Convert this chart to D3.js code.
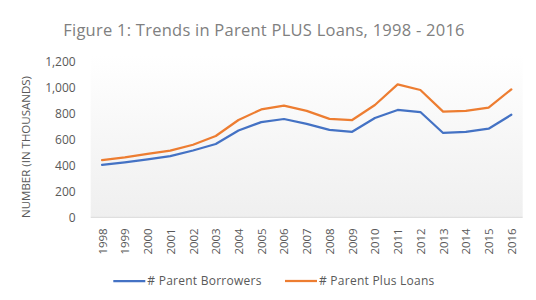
<!DOCTYPE html>
<html>
<head>
<meta charset="utf-8">
<script src="https://cdn.jsdelivr.net/npm/d3@7"></script>
<style>
  body { margin: 0; background: #fff; }
  text { font-family: "Open Sans", sans-serif; fill: #595959; }
</style>
</head>
<body>
<svg width="536" height="300"></svg>
<script>
var years = ["1998","1999","2000","2001","2002","2003","2004","2005","2006","2007",
             "2008","2009","2010","2011","2012","2013","2014","2015","2016"];
var borrowers = [404, 425, 448, 473, 516, 566, 670, 735, 759, 721,
                 675, 660, 767, 829, 813, 651, 659, 684, 792];
var plusLoans = [442, 463, 489, 515, 560, 628, 751, 833, 862, 822,
                 760, 751, 867, 1027, 983, 816, 821, 847, 988];
var yTicks = [0, 200, 400, 600, 800, 1000, 1200];

var series = [
  {name: "# Parent Borrowers", values: borrowers, color: "#4472C4"},
  {name: "# Parent Plus Loans", values: plusLoans, color: "#ED7D31"}
];

var svg = d3.select("svg");

var plot = {left: 90.7, right: 522.7, top: 55, bottom: 217.3};

var x = d3.scalePoint()
    .domain(years)
    .range([plot.left, plot.right])
    .padding(0.5);

var y = d3.scaleLinear()
    .domain([0, 1200])
    .range([plot.bottom, 61.9]);

// plot area background gradient
var grad = svg.append("defs").append("linearGradient")
    .attr("id", "bg")
    .attr("x1", 0).attr("y1", 0).attr("x2", 0).attr("y2", 1);
grad.append("stop").attr("offset", "0%").attr("stop-color", "#ffffff");
grad.append("stop").attr("offset", "100%").attr("stop-color", "#efefef");

svg.append("rect")
    .attr("x", plot.left)
    .attr("y", plot.top)
    .attr("width", plot.right - plot.left)
    .attr("height", plot.bottom - plot.top)
    .attr("fill", "url(#bg)");

// title
svg.append("text")
    .attr("x", 264)
    .attr("y", 36)
    .attr("text-anchor", "middle")
    .style("font-size", "16.5px")
    .style("letter-spacing", "0.25px")
    .style("fill", "#808080")
    .text("Figure 1: Trends in Parent PLUS Loans, 1998 - 2016");

// y axis
var yAxis = svg.append("g")
    .attr("transform", "translate(" + plot.left + ",0)")
    .call(d3.axisLeft(y).tickValues(yTicks).tickSize(0).tickPadding(15)
      .tickFormat(d3.format(",")));
yAxis.select(".domain").remove();
yAxis.selectAll("text")
    .style("font-size", "12px")
    .style("font-family", "Open Sans, sans-serif")
    .attr("fill", "#595959");

svg.append("text")
    .attr("transform", "translate(30,147) rotate(-90)")
    .attr("text-anchor", "middle")
    .style("font-size", "11.5px")
    .text("NUMBER (IN THOUSANDS)");

// x axis
var xAxis = svg.append("g")
    .attr("transform", "translate(0," + plot.bottom + ")")
    .call(d3.axisBottom(x).tickSize(0));
xAxis.select(".domain")
    .attr("stroke", "#d9d9d9")
    .attr("d", "M" + plot.left + ",0H" + plot.right);
xAxis.selectAll("text")
    .style("font-size", "11.5px")
    .style("font-family", "Open Sans, sans-serif")
    .attr("fill", "#595959")
    .attr("text-anchor", "end")
    .attr("transform", "rotate(-90)")
    .attr("x", -11)
    .attr("y", 0)
    .attr("dy", "0.35em");

// lines
var line = d3.line()
    .x((d, i) => x(years[i]))
    .y(d => y(d));

svg.selectAll(".series")
    .data(series)
    .enter().append("path")
    .attr("class", "series")
    .attr("d", d => line(d.values))
    .attr("fill", "none")
    .attr("stroke", d => d.color)
    .attr("stroke-width", 2.25)
    .attr("stroke-linejoin", "round")
    .attr("stroke-linecap", "round");

// legend
var legendX = [113.3, 285];
var legend = svg.selectAll(".legend")
    .data(series)
    .enter().append("g")
    .attr("class", "legend")
    .attr("transform", (d, i) => "translate(" + legendX[i] + ",281)");
legend.append("line")
    .attr("x1", 0).attr("x2", 32)
    .attr("stroke", d => d.color)
    .attr("stroke-width", 2.25);
legend.append("text")
    .attr("x", 34)
    .attr("dy", "0.35em")
    .style("font-size", "12px")
    .style("letter-spacing", "0.25px")
    .text(d => d.name);
</script>
</body>
</html>
